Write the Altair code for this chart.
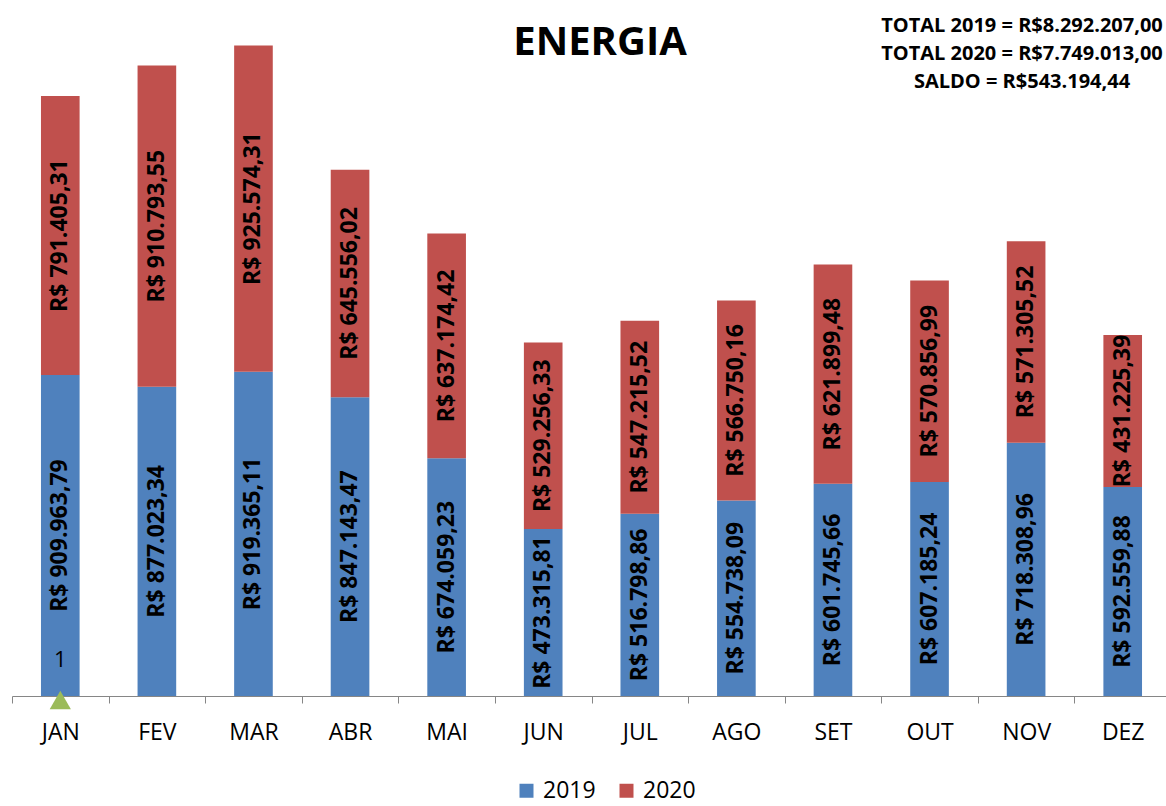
import altair as alt
import pandas as pd

months = ["JAN", "FEV", "MAR", "ABR", "MAI", "JUN", "JUL", "AGO", "SET", "OUT", "NOV", "DEZ"]
v2019 = [909963.79, 877023.34, 919365.11, 847143.47, 674059.23, 473315.81,
         516798.86, 554738.09, 601745.66, 607185.24, 718308.96, 592559.88]
v2020 = [791405.31, 910793.55, 925574.31, 645556.02, 637174.42, 529256.33,
         547215.52, 566750.16, 621899.48, 570856.99, 571305.52, 431225.39]
years = ["2019", "2020"]
colors = ["#4F81BD", "#C0504D"]

marker_month = ["JAN"]
marker_value = [1]

title_text = "ENERGIA"
totals_text = ["TOTAL 2019 = R$8.292.207,00", "TOTAL 2020 = R$7.749.013,00", "SALDO = R$543.194,44"]


def brl(v):
    s = f"{v:,.2f}"
    s = s.replace(",", "X").replace(".", ",").replace("X", ".")
    return "R$ " + s


rows = []
for i, m in enumerate(months):
    rows.append({"month": m, "year": "2019", "order": 0, "value": v2019[i], "label": brl(v2019[i])})
    rows.append({"month": m, "year": "2020", "order": 1, "value": v2020[i], "label": brl(v2020[i])})
df = pd.DataFrame(rows)

mdf = pd.DataFrame({"month": marker_month, "value": marker_value, "label": [str(v) for v in marker_value]})

FONT = "Open Sans"
STEP_RANGE = 1159
step = STEP_RANGE / 12.0

xscale = alt.Scale(domain=months, range=[0, STEP_RANGE], paddingInner=0.6, paddingOuter=0.3)
yscale = alt.Scale(domain=[0, 1900000], nice=False, zero=True)

base = alt.Chart(df).transform_stack(
    stack="value", groupby=["month"], as_=["v0", "v1"], sort=[alt.SortField("order")]
).transform_calculate(mid="(datum.v0 + datum.v1) / 2")

bars = base.mark_bar().encode(
    x=alt.X("month:N", sort=months, scale=xscale, title=None,
            axis=alt.Axis(labelFont=FONT, labelFontSize=23, labelColor="#000000",
                          labelAngle=0, domainColor="#868686", tickColor="#868686",
                          tickSize=7, tickOffset=-step / 2, labelOffset=step / 2,
                          labelPadding=18, domainWidth=1, tickWidth=1)),
    y=alt.Y("v0:Q", scale=yscale, axis=None),
    y2="v1:Q",
    color=alt.Color("year:N", scale=alt.Scale(domain=years, range=colors),
                    legend=alt.Legend(title=None, orient="none", legendX=503, legendY=753,
                                      direction="horizontal", symbolType="square",
                                      symbolSize=196, symbolStrokeWidth=0,
                                      labelFont=FONT, labelFontSize=23, labelColor="#000000",
                                      labelOffset=5, columnPadding=19, padding=0)),
)

labels = base.mark_text(angle=270, font=FONT, fontSize=23, fontWeight="bold",
                        color="#000000", align="center", baseline="middle").encode(
    x=alt.X("month:N", sort=months),
    y=alt.Y("mid:Q"),
    text="label:N",
)

marker = alt.Chart(mdf).mark_point(shape="triangle-up", filled=True, size=450,
                                   color="#9BBB59", opacity=1).encode(
    x=alt.X("month:N", sort=months),
    y=alt.Y("value:Q"),
    yOffset=alt.value(4),
)

marker_label = alt.Chart(mdf).mark_text(font=FONT, fontSize=22, color="#000000",
                                        baseline="middle", dy=-36).encode(
    x=alt.X("month:N", sort=months),
    y=alt.Y("value:Q"),
    text="label:N",
)

title = alt.Chart(pd.DataFrame({"t": [title_text]})).mark_text(
    font=FONT, fontSize=40, fontWeight="bold", color="#000000",
    align="center", baseline="alphabetic").encode(
    x=alt.value(588), y=alt.value(29), text="t:N")

totals = alt.Chart(pd.DataFrame({"t": ["\n".join(totals_text)]})).mark_text(
    font=FONT, fontSize=20, fontWeight="bold", color="#000000",
    align="center", baseline="alphabetic", lineBreak="\n", lineHeight=28).encode(
    x=alt.value(1010), y=alt.value(6), text="t:N")

chart = alt.layer(bars, labels, marker, marker_label, title, totals).properties(
    width=1154, height=670,
    padding={"left": 12, "top": 26, "right": 0, "bottom": 110},
    autosize=alt.AutoSizeParams(type="none"),
    background="#FFFFFF",
).configure_view(stroke=None)

chart.save("out.html", embed_options={"renderer": "svg", "actions": False})
